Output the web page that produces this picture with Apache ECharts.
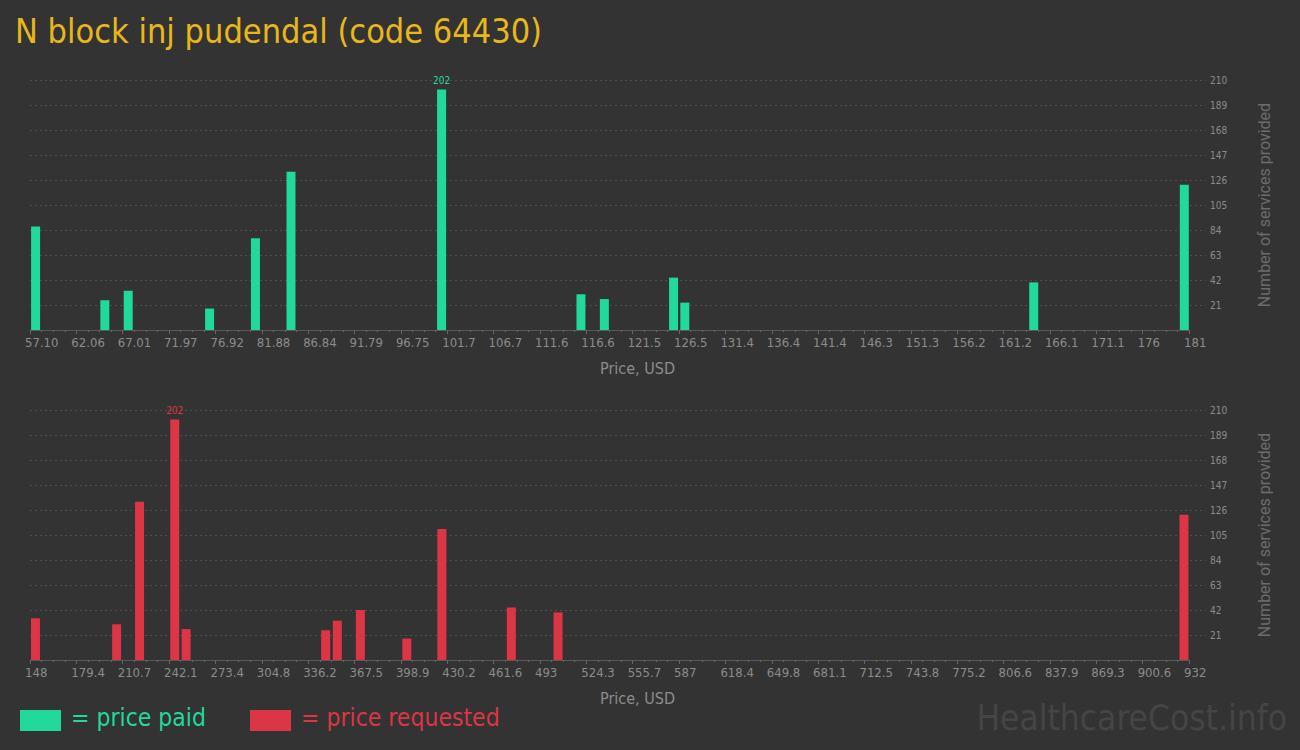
<!DOCTYPE html>
<html><head><meta charset="utf-8">
<script src="https://cdn.jsdelivr.net/npm/echarts@6/dist/echarts.min.js"></script>
<style>html,body{margin:0;padding:0;background:#333333;} #c{width:1300px;height:750px;}</style>
</head><body><div id="c"></div>
<script>
// ---- data ----
const titleText = "N block inj pudendal (code 64430)";
const paidTickLabels = ["57.10","62.06","67.01","71.97","76.92","81.88","86.84","91.79","96.75","101.7","106.7","111.6","116.6","121.5","126.5","131.4","136.4","141.4","146.3","151.3","156.2","161.2","166.1","171.1","176","181"];
const paidPrices = [57.7, 65.1, 67.6, 76.3, 81.2, 85.0, 101.1, 116.0, 118.5, 125.9, 127.1, 164.4, 180.5];
const paidCounts = [87, 25, 33, 18, 77, 133, 202, 30, 26, 44, 23, 40, 122];
const reqTickLabels = ["148","179.4","210.7","242.1","273.4","304.8","336.2","367.5","398.9","430.2","461.6","493","524.3","555.7","587","618.4","649.8","681.1","712.5","743.8","775.2","806.6","837.9","869.3","900.6","932"];
const reqPrices = [151.7, 206.6, 222.1, 245.9, 253.6, 348.0, 355.9, 371.5, 402.9, 426.6, 473.6, 505.2, 928.6];
const reqCounts = [35, 30, 133, 202, 26, 25, 33, 42, 18, 110, 44, 40, 122];
const yTickMax = 210, yTickStep = 21;
const yAxisName = "Number of services provided";
const xAxisName = "Price, USD";
const legendPaid = "= price paid";
const legendReq = "= price requested";
const watermark = "HealthcareCost.info";

// ---- styles ----
const NARROW = "'Liberation Sans Narrow', 'DejaVu Sans Condensed', sans-serif";
const GREEN = "#21d99b", RED = "#dc3545", GOLD = "#e8b71a";
const nSteps = paidTickLabels.length - 1;

function toUnits(prices, labels) {
  const lo = parseFloat(labels[0]), hi = parseFloat(labels[labels.length - 1]);
  const step = (hi - lo) / (labels.length - 1);
  return prices.map(p => (p - lo) / step);
}
function barData(prices, counts, labels) {
  const u = toUnits(prices, labels);
  const mx = Math.max(...counts);
  return counts.map((c, i) => ({ value: [u[i], c], label: { show: c === mx } }));
}

const gridTops = [80, 410];
const grids = [];
gridTops.forEach(t => {
  grids.push({ left: 30, right: 111, top: t, height: 250 });
  grids.push({ left: 30, right: 94, top: t, height: 250 });
});

function barX(gi, labels) {
  return {
    type: 'value', gridIndex: gi, min: 0, max: nSteps, interval: 1,
    axisLine: { show: true, lineStyle: { color: '#585858', width: 1 } },
    axisTick: { show: true, length: 4, lineStyle: { color: '#666' } },
    minorTick: { show: true, splitNumber: 4, length: 2, lineStyle: { color: '#666' } },
    splitLine: { show: false },
    axisLabel: { formatter: v => labels[Math.round(v)], color: '#8c8c8c', fontFamily: NARROW, fontSize: 13, margin: 6, align: 'left', padding: [0,0,0,-5] },
    name: xAxisName, nameLocation: 'middle', nameGap: 30,
    nameTextStyle: { color: '#8c8c8c', fontFamily: NARROW, fontSize: 16, padding: [0,0,0,56] }
  };
}
function hiddenX(gi) { return { type: 'value', gridIndex: gi, min: 0, max: nSteps, show: false }; }
function hiddenY(gi) { return { type: 'value', gridIndex: gi, min: 0, max: yTickMax, interval: yTickStep, show: false }; }
function visY(gi) {
  return {
    type: 'value', gridIndex: gi, position: 'right', min: 0, max: yTickMax, interval: yTickStep,
    axisLine: { show: false }, axisTick: { show: false },
    axisLabel: { showMinLabel: false, color: '#8c8c8c', fontFamily: NARROW, fontSize: 10, margin: 4 },
    splitLine: { show: true, showMinLine: false, lineStyle: { color: '#505050', type: [2, 3], width: 1 } },
    name: yAxisName, nameLocation: 'middle', nameGap: 50, nameRotate: 90,
    nameTextStyle: { color: '#6c6c6c', fontFamily: 'Roboto, sans-serif', fontSize: 16 }
  };
}

const option = {
  backgroundColor: '#333333',
  animation: false,
  title: { text: titleText, left: 15, top: 14, padding: 0, textStyle: { color: GOLD, fontFamily: NARROW, fontSize: 34, fontWeight: 'normal' } },
  grid: grids,
  xAxis: [barX(0, paidTickLabels), hiddenX(1), barX(2, reqTickLabels), hiddenX(3)],
  yAxis: [hiddenY(0), visY(1), hiddenY(2), visY(3)],
  series: [
    { type: 'bar', xAxisIndex: 0, yAxisIndex: 0, barWidth: 9, itemStyle: { color: GREEN },
      label: { position: 'top', distance: 4, color: GREEN, fontFamily: NARROW, fontSize: 10 },
      data: barData(paidPrices, paidCounts, paidTickLabels) },
    { type: 'bar', xAxisIndex: 2, yAxisIndex: 2, barWidth: 9, itemStyle: { color: RED },
      label: { position: 'top', distance: 4, color: RED, fontFamily: NARROW, fontSize: 10 },
      data: barData(reqPrices, reqCounts, reqTickLabels) }
  ],
  graphic: [
    { type: 'rect', left: 20, top: 710, shape: { width: 41, height: 21 }, style: { fill: GREEN } },
    { type: 'text', left: 71, top: 705, style: { text: legendPaid, fill: GREEN, font: "24.5px " + NARROW } },
    { type: 'rect', left: 250, top: 710, shape: { width: 41, height: 21 }, style: { fill: RED } },
    { type: 'text', left: 301, top: 705, style: { text: legendReq, fill: RED, font: "24.5px " + NARROW } },
    { type: 'text', right: 13, top: 700, style: { text: watermark, fill: '#454545', font: "35px " + NARROW } }
  ]
};
const chart = echarts.init(document.getElementById('c'), null, { renderer: 'svg' });
chart.setOption(option);
</script></body></html>
